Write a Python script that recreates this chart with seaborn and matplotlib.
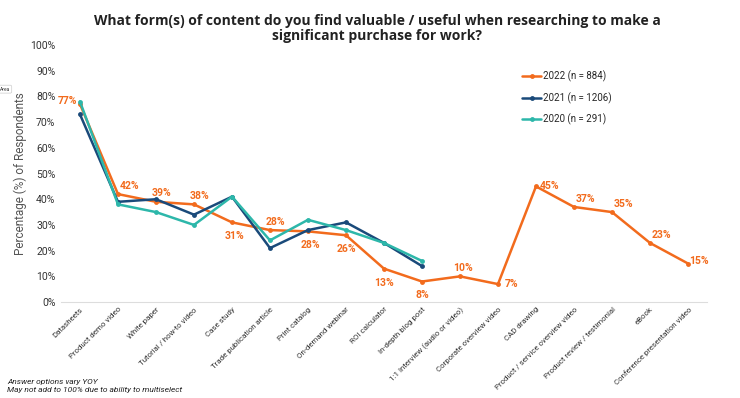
import pandas as pd
import numpy as np
import matplotlib.pyplot as plt
import seaborn as sns

# categories + values
categories = ['Datasheets', 'Product demo video', 'White paper', 'Tutorial / how-to video',
              'Case study', 'Trade publication article', 'Print catalog', 'On-demand webinar',
              'ROI calculator', 'In-depth blog post', '1:1 Interview (audio or video)',
              'Corporate overview video', 'CAD drawing', 'Product / service overview video',
              'Product review / testimonial', 'eBook', 'Conference presentation video']
vals_2022 = [77, 42, 39, 38, 31, 28, 27.5, 26, 13, 8, 10, 7, 45, 37, 35, 23, 15]
vals_2021 = [73, 39, 40, 34, 41, 21, 28, 31, 23, 14]
vals_2020 = [78, 38, 35, 30, 41, 24, 32, 28, 23, 16]
labels_2022 = ['77%', '42%', '39%', '38%', '31%', '28%', '28%', '26%', '13%', '8%', '10%',
               '7%', '45%', '37%', '35%', '23%', '15%']
series_names = ['2022 (n = 884)', '2021 (n = 1206)', '2020 (n = 291)']

# where each 2022 label sits relative to its point (points)
label_offsets = [(-9, 2), (8, 6), (4, 6), (4, 6), (2, -10), (4, 6), (2, -10), (0, -10),
                 (0, -10), (0, -10), (2, 6), (10, 0), (10, 0), (8, 6), (8, 6), (8, 6), (8, 2)]

rows = []
for name, vals in zip(series_names, [vals_2022, vals_2021, vals_2020]):
    for i, v in enumerate(vals):
        rows.append({'pos': i, 'value': v, 'year': name})
df = pd.DataFrame(rows)

colors = ['#F26B1D', '#1A4A7A', '#2DB7AA']

sns.set_style('white')
plt.rcParams['font.family'] = ['Roboto', 'DejaVu Sans']

fig = plt.figure(figsize=(7.4, 3.98), dpi=100)
ax = fig.add_axes([0.0824, 0.241, 0.873, 0.646])

sns.lineplot(data=df, x='pos', y='value', hue='year', hue_order=series_names,
             palette=colors, marker='o', markersize=3.5, markeredgewidth=0,
             linewidth=1.8, ax=ax)

for i, (v, lab, off) in enumerate(zip(vals_2022, labels_2022, label_offsets)):
    ax.annotate(lab, (i, v), xytext=off, textcoords='offset points', ha='center', va='center',
                color='#F26B1D', fontsize=7.5, fontweight='bold')

ax.set_xlim(-0.5, len(categories) - 0.5)
ax.set_ylim(0, 100)
ax.set_yticks(range(0, 101, 10))
ax.set_yticklabels(['%d%%' % t for t in range(0, 101, 10)], fontsize=7.5, color='#333333')
ax.set_xticks(range(len(categories)))
ax.set_xticklabels(categories, rotation=45, ha='right', rotation_mode='anchor',
                   fontsize=5.7, color='#333333')
ax.tick_params(axis='both', length=0, pad=4)
ax.tick_params(axis='x', pad=3)
ax.set_xlabel('')
ax.set_ylabel('Percentage (%) of Respondents', fontsize=8.5, color='#555555', labelpad=2)

for s in ['top', 'right', 'left']:
    ax.spines[s].set_visible(False)
ax.spines['bottom'].set_color('#dddddd')
ax.spines['bottom'].set_linewidth(0.8)

leg = ax.legend(loc='upper left', bbox_to_anchor=(0.7, 0.935), frameon=False, fontsize=7,
                handlelength=2, handletextpad=0.2, labelspacing=1.05)

fig.text(0.51, 0.965, 'What form(s) of content do you find valuable / useful when researching to make a\nsignificant purchase for work?',
         ha='center', va='top', fontsize=10, fontweight='bold', color='#222222',
         family=['Open Sans', 'DejaVu Sans'], linespacing=1.1)

fig.text(0.01, 0.012, 'Answer options vary YOY\nMay not add to 100% due to ability to multiselect',
         fontsize=6, style='italic', color='#222222', va='bottom', linespacing=1.4)

fig.text(0.0, 0.776, 'Area', fontsize=3.5, color='#333333', va='center',
         bbox=dict(boxstyle='round,pad=0.3', fc='white', ec='#cccccc', lw=0.5))

fig.savefig('out.png', dpi=100)
